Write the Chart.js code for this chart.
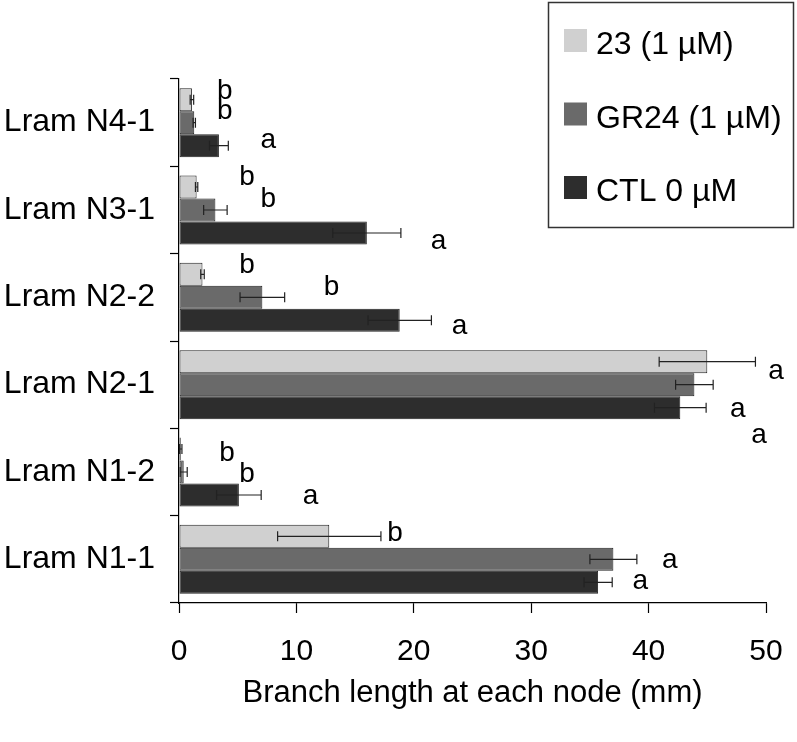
<!DOCTYPE html>
<html>
<head>
    <title>Branch length at each node</title>
    <script src="https://cdn.jsdelivr.net/npm/chart.js"></script>
    <style>
        body { margin: 0; background: #fff; }
    </style>
</head>
<body>
    <canvas id="branchChart" width="797" height="742"></canvas>
    <script>
        // node names, top to bottom
        const nodes = ['Lram N4-1', 'Lram N3-1', 'Lram N2-2', 'Lram N2-1', 'Lram N1-2', 'Lram N1-1'];
        const seriesNames = ['23 (1 \u00b5M)', 'GR24 (1 \u00b5M)', 'CTL 0 \u00b5M'];

        // mean branch length (mm) and error
        const len23 = [1.1, 1.5, 2.0, 45.0, 0.15, 12.8];
        const err23 = [0.15, 0.1, 0.15, 4.1, 0.1, 4.4];
        const lenGR24 = [1.3, 3.1, 7.1, 43.9, 0.4, 37.0];
        const errGR24 = [0.1, 1.0, 1.9, 1.6, 0.3, 2.0];
        const lenCTL = [3.4, 16.0, 18.8, 42.7, 5.1, 35.7];
        const errCTL = [0.8, 2.9, 2.7, 2.2, 1.9, 1.2];

        // significance letters
        const sig23 = ['b', 'b', 'b', 'a', 'b', 'b'];
        const sigGR24 = ['b', 'b', 'b', 'a', 'b', 'a'];
        const sigCTL = ['a', 'a', 'a', 'a', 'a', 'a'];

        const xTicks = [0, 10, 20, 30, 40, 50];

        const FONT = "'Liberation Sans', Arial, sans-serif";
        Chart.defaults.font.family = FONT;
        Chart.defaults.color = '#000';

        // where the letters sit (x in mm, y shift in px from bar centre)
        const letterPlace = [
            { x: [3.9, 5.8, 5.8, 50.85, 4.1, 18.4], dy: [-8, -10, -9, 10, 4, -3] },
            { x: [3.9, 7.6, 13.0, 47.6, 5.8, 41.8], dy: [-11, -10.5, -10, 25, 2.5, 1] },
            { x: [7.6, 22.1, 23.9, 49.4, 11.2, 39.3], dy: [-5.5, 8, 5.5, 28, 1.5, -1.5] }
        ];

        const errorBars = {
            id: 'errorBars',
            afterDatasetsDraw(chart) {
                const c = chart.ctx;
                const xs = chart.scales.x;
                c.save();
                c.strokeStyle = '#222';
                c.lineWidth = 1.2;
                chart.data.datasets.forEach((ds, i) => {
                    chart.getDatasetMeta(i).data.forEach((bar, j) => {
                        const v = ds.data[j], e = ds.errors[j];
                        const x1 = xs.getPixelForValue(v - e);
                        const x2 = xs.getPixelForValue(v + e);
                        const y = bar.y;
                        c.beginPath();
                        c.moveTo(x1, y); c.lineTo(x2, y);
                        c.moveTo(x1, y - 5); c.lineTo(x1, y + 5);
                        c.moveTo(x2, y - 5); c.lineTo(x2, y + 5);
                        c.stroke();
                    });
                });
                c.restore();
            }
        };

        const letters = {
            id: 'letters',
            afterDraw(chart) {
                const c = chart.ctx;
                const xs = chart.scales.x;
                c.save();
                c.font = '28px ' + FONT;
                c.fillStyle = '#000';
                c.textAlign = 'center';
                c.textBaseline = 'middle';
                chart.data.datasets.forEach((ds, i) => {
                    chart.getDatasetMeta(i).data.forEach((bar, j) => {
                        const p = letterPlace[i];
                        c.fillText(ds.letters[j], xs.getPixelForValue(p.x[j]), bar.y + p.dy[j]);
                    });
                });
                c.restore();
            }
        };

        const legendBox = {
            id: 'legendBox',
            afterDraw(chart) {
                const c = chart.ctx;
                c.save();
                c.strokeStyle = '#333';
                c.lineWidth = 1.5;
                c.strokeRect(548.5, 2.5, 245, 225);
                c.font = '32px ' + FONT;
                c.textBaseline = 'alphabetic';
                c.textAlign = 'left';
                chart.data.datasets.forEach((ds, i) => {
                    const top = 29 + i * 73.5;
                    c.fillStyle = ds.backgroundColor;
                    c.fillRect(564, top, 23, 23);
                    c.fillStyle = '#000';
                    c.fillText(ds.label, 596, top + 25);
                });
                c.restore();
            }
        };

        const ctx = document.getElementById('branchChart').getContext('2d');
        new Chart(ctx, {
            type: 'bar',
            data: {
                labels: nodes,
                datasets: [
                    { label: seriesNames[0], data: len23, errors: err23, letters: sig23, backgroundColor: '#d0d0d0' },
                    { label: seriesNames[1], data: lenGR24, errors: errGR24, letters: sigGR24, backgroundColor: '#6a6a6a' },
                    { label: seriesNames[2], data: lenCTL, errors: errCTL, letters: sigCTL, backgroundColor: '#2d2d2d' }
                ]
            },
            options: {
                indexAxis: 'y',
                responsive: false,
                animation: false,
                datasets: {
                    bar: {
                        borderColor: '#222',
                        borderWidth: 1,
                        borderSkipped: false,
                        categoryPercentage: 0.79,
                        barPercentage: 1
                    }
                },
                layout: { padding: { top: 79, right: 31, left: 0, bottom: 0 } },
                scales: {
                    x: {
                        min: 0,
                        max: 50,
                        afterBuildTicks: s => { s.ticks = xTicks.map(v => ({ value: v })); },
                        ticks: { padding: 21, font: { size: 30 }, color: '#000' },
                        grid: { drawOnChartArea: false, tickLength: 10, color: '#000', tickWidth: 1.2 },
                        border: { color: '#000', width: 1.2 },
                        title: {
                            display: true,
                            text: 'Branch length at each node (mm)',
                            font: { size: 31 },
                            color: '#000',
                            padding: { top: 0, bottom: 30 }
                        },
                        afterFit: s => { s.height = 139; s.paddingLeft = 0; s.paddingRight = 0; }
                    },
                    y: {
                        ticks: { padding: 15, font: { size: 32 }, color: '#000' },
                        grid: { drawOnChartArea: false, offset: true, tickLength: 9, color: '#000', tickWidth: 1.2 },
                        border: { color: '#000', width: 1.2 },
                        afterFit: s => { s.width = 179; s.paddingTop = 0; s.paddingBottom = 0; }
                    }
                },
                plugins: {
                    legend: { display: false },
                    tooltip: { enabled: false }
                }
            },
            plugins: [errorBars, letters, legendBox]
        });
    </script>
</body>
</html>
